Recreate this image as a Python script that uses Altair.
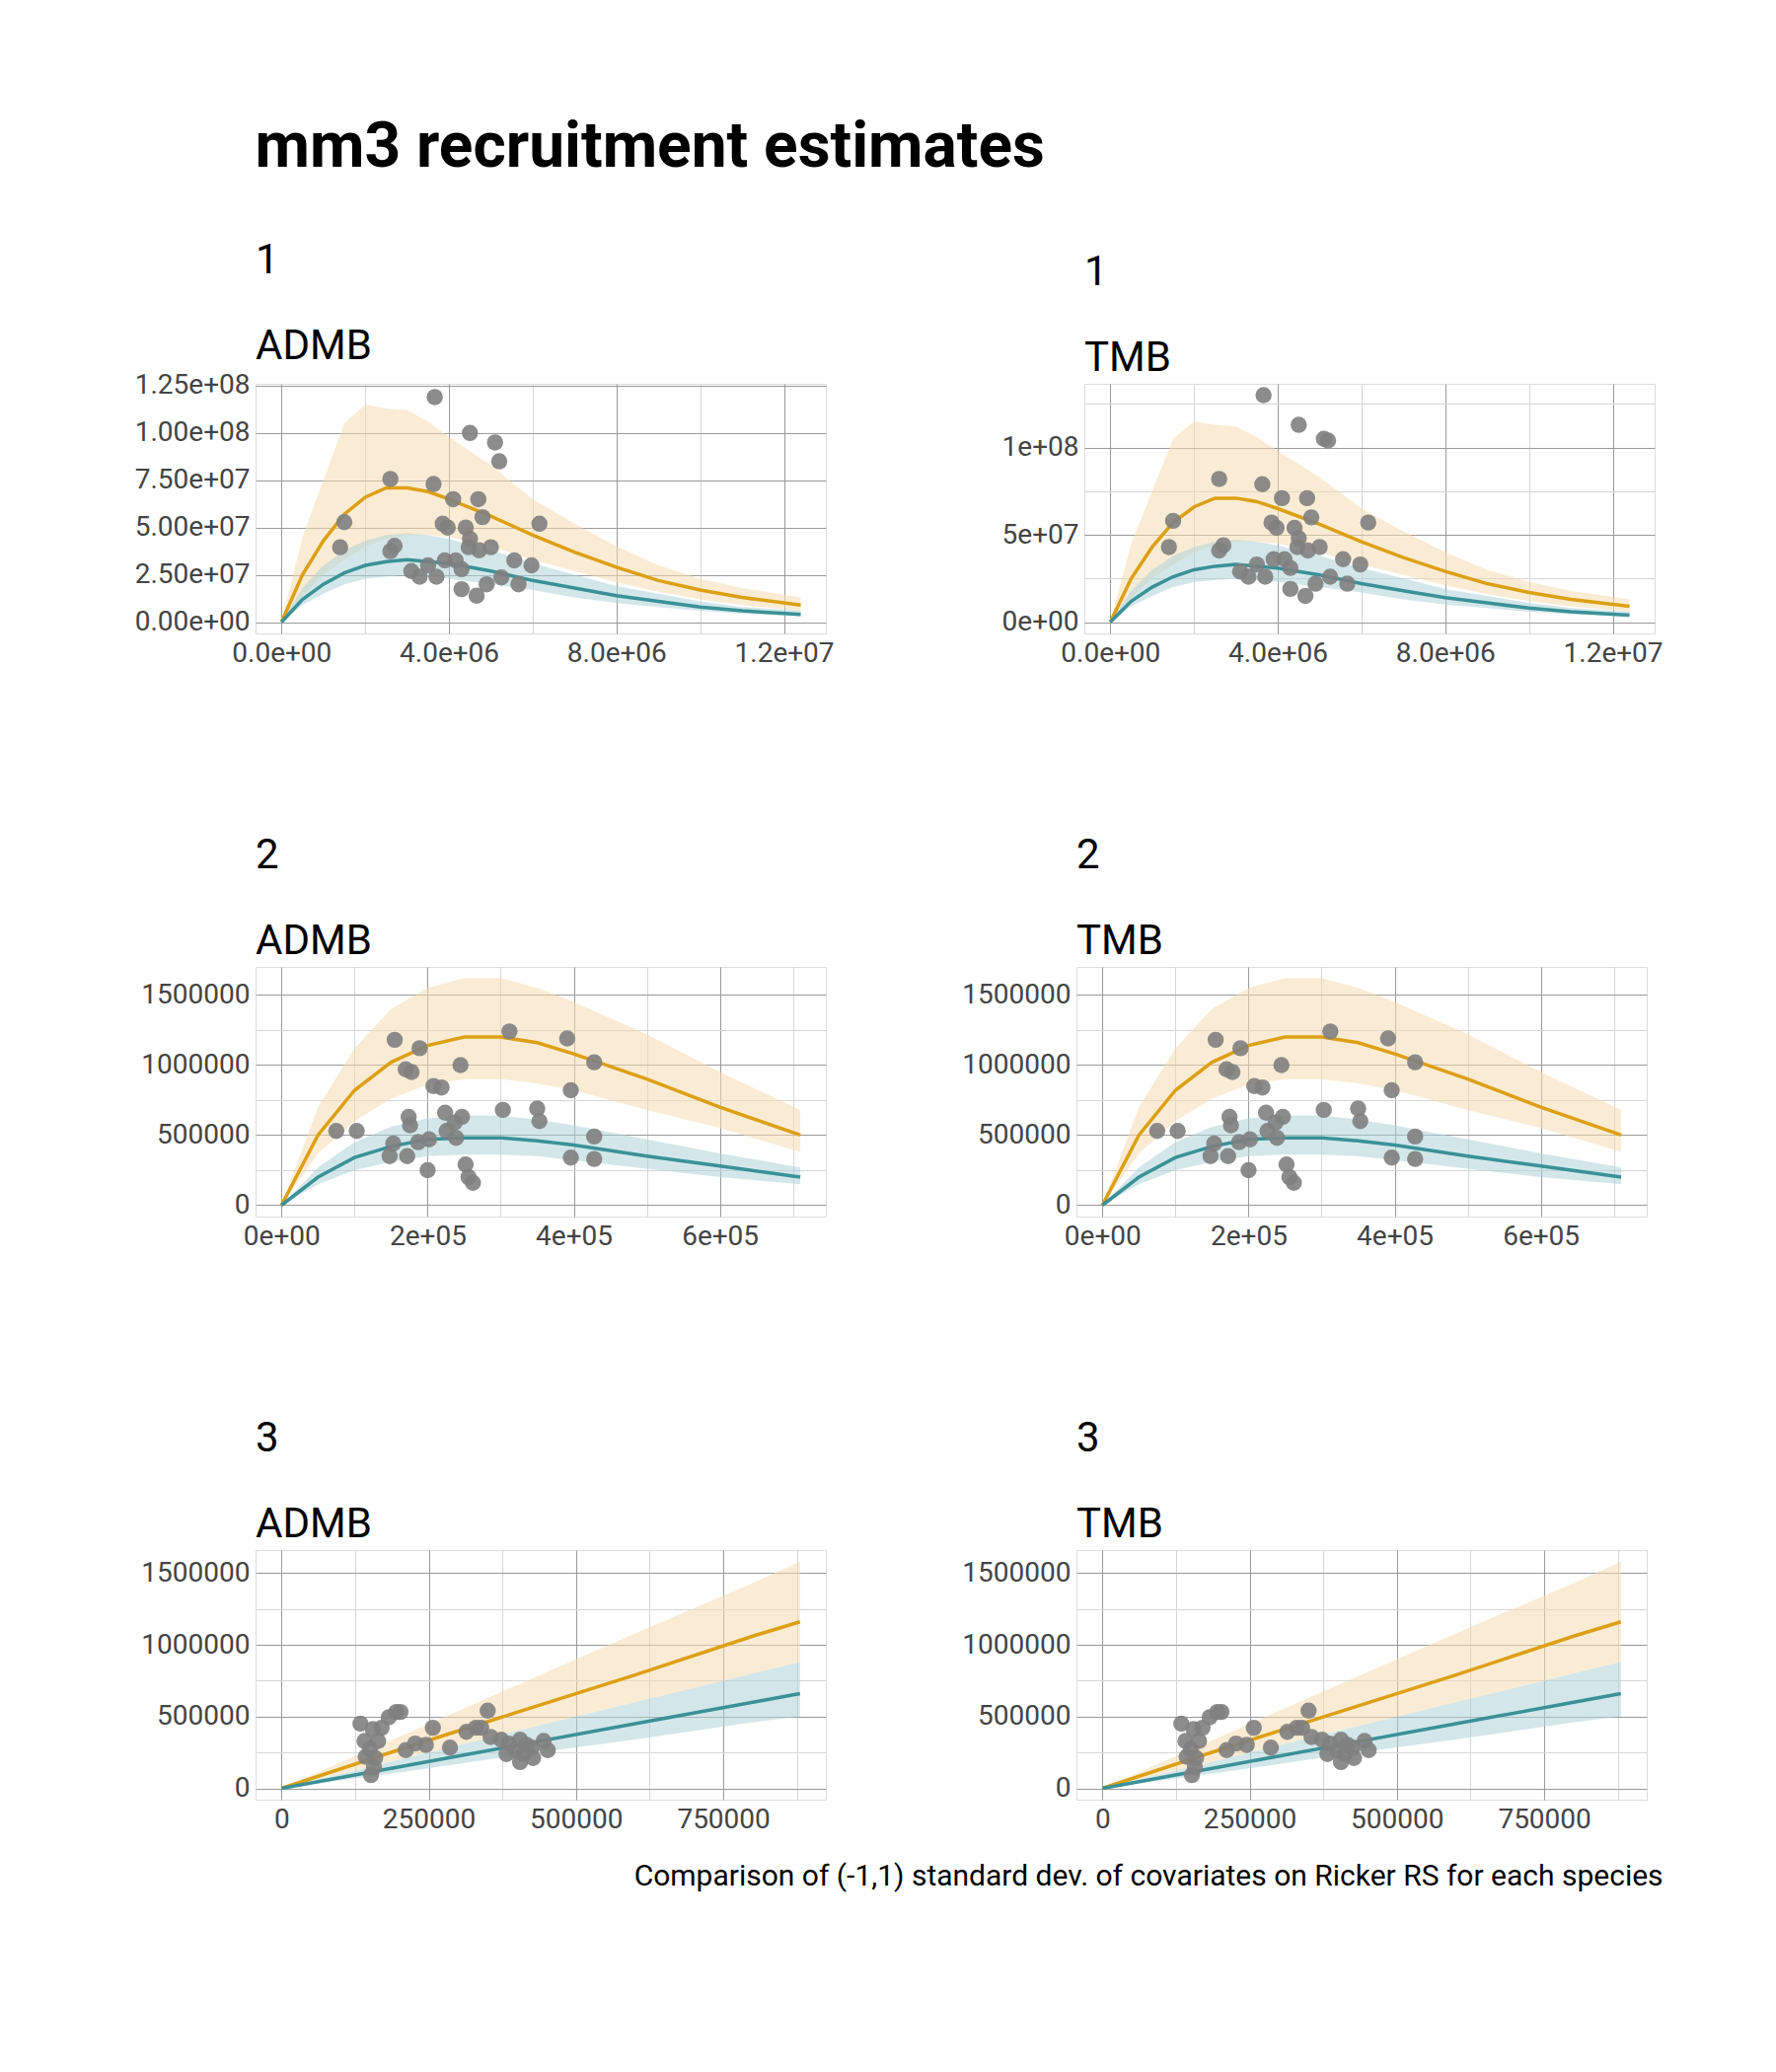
import altair as alt
import pandas as pd

FONT = "Roboto"
YEL_LINE, YEL_BAND = "#DDA015", "#F6DDB0"
TEAL_LINE, TEAL_BAND = "#3B9198", "#AFD3D8"

# ---- species 1 (spawners in 1e6, recruits in 1e7) ----
s1_grid = [0, 0.5, 1, 1.5, 2, 2.5, 3, 3.5, 4, 5, 6, 7, 8, 9, 10, 11, 12.4]
s1_hi = [0, 2.5, 4.3, 5.7, 6.6, 7.1, 7.1, 6.9, 6.5, 5.6, 4.6, 3.7, 2.9, 2.2, 1.7, 1.3, 0.9]
s1_hi_up = [0, 4.5, 7.5, 10.5, 11.5, 11.3, 11.2, 10.6, 9.8, 8.3, 6.5, 5.2, 4.0, 3.0, 2.3, 1.8, 1.3]
s1_hi_lo = [0, 1.4, 2.5, 3.3, 4.0, 4.4, 4.6, 4.6, 4.5, 4.0, 3.3, 2.7, 2.1, 1.6, 1.2, 0.9, 0.6]
s1_lo = [0, 1.2, 2.0, 2.6, 3.0, 3.2, 3.3, 3.2, 3.1, 2.7, 2.2, 1.8, 1.4, 1.1, 0.8, 0.6, 0.4]
s1_lo_up = [0, 1.8, 3.0, 3.8, 4.3, 4.6, 4.7, 4.6, 4.4, 3.8, 3.1, 2.5, 1.9, 1.5, 1.1, 0.8, 0.6]
s1_lo_lo = [0, 0.9, 1.5, 2.0, 2.3, 2.4, 2.5, 2.4, 2.3, 2.0, 1.7, 1.3, 1.0, 0.8, 0.6, 0.45, 0.3]
s1_obs_s = [1.4, 1.5, 2.6, 2.6, 2.7, 3.66, 3.63, 3.1, 3.3, 3.5, 3.7, 3.85, 3.97, 3.9, 4.1, 4.16, 4.3, 4.3,
            4.5, 4.4, 4.47, 4.5, 4.66, 4.7, 4.72, 4.8, 4.9, 5.1, 5.2, 5.0, 5.25, 5.56, 5.66, 5.97, 6.16]
s1_obs_r_admb = [3.96, 5.28, 7.57, 3.75, 4.03, 11.9, 7.3, 2.7, 2.4, 3.0, 2.4, 5.2, 5.0, 3.26, 6.5, 3.26, 2.8, 1.74,
                 10.0, 5.0, 3.96, 4.4, 1.4, 6.5, 3.8, 5.55, 2.0, 9.5, 8.5, 3.96, 2.36, 3.26, 2.0, 3.0, 5.2]
s1_obs_r_tmb = [4.3, 5.8, 8.2, 4.1, 4.4, 13.0, 7.9, 2.9, 2.6, 3.3, 2.6, 5.7, 5.4, 3.6, 7.1, 3.6, 3.1, 1.9,
                11.3, 5.4, 4.3, 4.8, 1.5, 7.1, 4.1, 6.0, 2.2, 10.5, 10.4, 4.3, 2.6, 3.6, 2.2, 3.3, 5.7]

# ---- species 2 (spawners in 1e5, recruits in 1e6) ----
s2_grid = [0, 0.5, 1, 1.5, 2, 2.5, 3, 3.5, 4, 5, 6, 7.1]
s2_hi = [0, 0.5, 0.82, 1.02, 1.14, 1.2, 1.2, 1.16, 1.08, 0.9, 0.7, 0.5]
s2_hi_up = [0, 0.7, 1.12, 1.4, 1.55, 1.62, 1.62, 1.55, 1.45, 1.22, 0.95, 0.68]
s2_hi_lo = [0, 0.37, 0.6, 0.76, 0.86, 0.9, 0.9, 0.87, 0.82, 0.68, 0.55, 0.38]
s2_lo = [0, 0.2, 0.34, 0.42, 0.47, 0.48, 0.48, 0.46, 0.43, 0.35, 0.28, 0.2]
s2_lo_up = [0, 0.27, 0.45, 0.56, 0.62, 0.64, 0.64, 0.61, 0.57, 0.47, 0.37, 0.27]
s2_lo_lo = [0, 0.15, 0.25, 0.31, 0.35, 0.36, 0.36, 0.35, 0.32, 0.26, 0.2, 0.15]
s2_obs_s = [0.75, 1.03, 1.55, 1.7, 1.78, 1.89, 1.53, 1.48, 1.72, 1.74, 1.76, 2.0, 1.87, 2.02, 2.08, 2.19, 2.24,
            2.26, 2.37, 2.39, 2.45, 2.47, 2.52, 2.56, 2.62, 3.03, 3.12, 3.5, 3.53, 3.91, 3.96, 3.96, 4.28, 4.28, 4.28]
s2_obs_r = [0.53, 0.53, 1.18, 0.97, 0.95, 1.12, 0.44, 0.35, 0.35, 0.63, 0.57, 0.25, 0.45, 0.47, 0.85, 0.84, 0.66,
            0.53, 0.59, 0.48, 1.0, 0.63, 0.29, 0.2, 0.16, 0.68, 1.24, 0.69, 0.6, 1.19, 0.82, 0.34, 1.02, 0.49, 0.33]

# ---- species 3 (spawners in 1e3, recruits in 1e3) ----
s3_grid = [0, 200, 400, 600, 800, 880]
s3_hi = [0, 270, 530, 790, 1060, 1160]
s3_hi_up = [0, 360, 720, 1080, 1430, 1580]
s3_hi_lo = [0, 200, 400, 600, 800, 880]
s3_lo = [0, 150, 300, 450, 600, 660]
s3_lo_up = [0, 200, 400, 600, 800, 880]
s3_lo_lo = [0, 110, 230, 340, 460, 500]
s3_obs_s = [134, 141, 143, 150, 155, 157, 152, 159, 164, 170, 182, 195, 202, 211, 227, 245, 257, 286, 314, 330,
            350, 339, 355, 373, 386, 382, 398, 405, 411, 416, 427, 445, 452, 425, 405]
s3_obs_r = [450, 330, 220, 275, 413, 147, 92, 211, 330, 422, 495, 532, 532, 266, 312, 303, 422, 284, 394, 422,
            541, 422, 358, 339, 312, 239, 266, 339, 239, 303, 211, 330, 266, 284, 183]


def fmt_e(digits):
    # R-style scientific labels: 4.0e+06
    return f"replace(format(datum.value, '.{digits}e'), 'e+', 'e+0')"


def axis(major, minor, label, extent, flush):
    test = " || ".join(f"datum.value == {m}" for m in major)
    return alt.Axis(
        values=sorted(major + minor), title=None, domain=False, ticks=False,
        labelExpr=f"({test}) ? {label} : ''", labelFont=FONT, labelFontSize=28,
        labelColor="#444", labelPadding=6, minExtent=extent, maxExtent=extent,
        gridColor={"condition": {"test": test, "value": "#9a9a9a"}, "value": "#d6d6d6"},
        gridWidth=1, labelOverlap=False, labelFlush=flush,
    )


def panel(num, name, grid, series, mult, obs_s, obs_r, smult, xd, yd, xax, yax):
    cols = ["hi", "hi_up", "hi_lo", "lo", "lo_up", "lo_lo"]
    curve = pd.DataFrame({"s": [g * smult for g in grid]})
    for c, vals in zip(cols, series):
        curve[c] = [v * mult for v in vals]
    pts = pd.DataFrame({"s": [v * smult for v in obs_s], "r": [v * mult for v in obs_r]})
    x = alt.X("s:Q", scale=alt.Scale(domain=xd, nice=False, zero=False), axis=xax)
    ysc = alt.Scale(domain=yd, nice=False, zero=False)
    base = alt.Chart(curve).encode(x=x)
    band_hi = base.mark_area(color=YEL_BAND, opacity=0.55).encode(y=alt.Y("hi_up:Q", scale=ysc, axis=yax), y2="hi_lo:Q")
    band_lo = base.mark_area(color=TEAL_BAND, opacity=0.55).encode(y=alt.Y("lo_up:Q", scale=ysc), y2="lo_lo:Q")
    line_hi = base.mark_line(color=YEL_LINE, strokeWidth=3.5).encode(y=alt.Y("hi:Q", scale=ysc))
    line_lo = base.mark_line(color=TEAL_LINE, strokeWidth=3.5).encode(y=alt.Y("lo:Q", scale=ysc))
    dots = alt.Chart(pts).mark_circle(color="#7f7f7f", opacity=0.9, size=270).encode(
        x=alt.X("s:Q", scale=alt.Scale(domain=xd, nice=False, zero=False)), y=alt.Y("r:Q", scale=ysc))
    return alt.layer(band_hi, band_lo, line_hi, line_lo, dots).properties(
        width=578, height=253,
        title=alt.TitleParams([str(num), name], anchor="start", frame="group", font=FONT,
                              fontSize=42, fontWeight="normal", lineHeight=87, offset=4, color="black"),
    )


YEXT, XEXT = 150, 52
rows = []
# species 1
s1 = [s1_hi, s1_hi_up, s1_hi_lo, s1_lo, s1_lo_up, s1_lo_lo]
x1 = axis([0, 4e6, 8e6, 1.2e7], [2e6, 6e6, 1e7], fmt_e(1), XEXT, False)
p1a = panel(1, "ADMB", s1_grid, s1, 1e7, s1_obs_s, s1_obs_r_admb, 1e6, [-6.2e5, 1.3e7], [-6e6, 1.26e8], x1,
            axis([0, 2.5e7, 5e7, 7.5e7, 1e8, 1.25e8], [1.25e7, 3.75e7, 6.25e7, 8.75e7, 1.125e8], fmt_e(2), YEXT, True))
p1b = panel(1, "TMB", s1_grid, s1, 1e7, s1_obs_s, s1_obs_r_tmb, 1e6, [-6.2e5, 1.3e7], [-6.5e6, 1.365e8], x1,
            axis([0, 5e7, 1e8], [2.5e7, 7.5e7, 1.25e8], fmt_e(0), YEXT, True))
rows.append(alt.hconcat(p1a, p1b, spacing=102))
# species 2
s2 = [s2_hi, s2_hi_up, s2_hi_lo, s2_lo, s2_lo_up, s2_lo_lo]
x2 = axis([0, 2e5, 4e5, 6e5], [1e5, 3e5, 5e5, 7e5], fmt_e(0), XEXT, False)
y2 = axis([0, 5e5, 1e6, 1.5e6], [2.5e5, 7.5e5, 1.25e6], "format(datum.value, 'd')", YEXT, True)
rows.append(alt.hconcat(
    panel(2, "ADMB", s2_grid, s2, 1e6, s2_obs_s, s2_obs_r, 1e5, [-3.55e4, 7.45e5], [-8.1e4, 1.7e6], x2, y2),
    panel(2, "TMB", s2_grid, s2, 1e6, s2_obs_s, s2_obs_r, 1e5, [-3.55e4, 7.45e5], [-8.1e4, 1.7e6], x2, y2),
    spacing=102))
# species 3
s3 = [s3_hi, s3_hi_up, s3_hi_lo, s3_lo, s3_lo_up, s3_lo_lo]
x3 = axis([0, 250000, 500000, 750000], [125000, 375000, 625000, 875000], "format(datum.value, 'd')", XEXT, False)
y3 = axis([0, 5e5, 1e6, 1.5e6], [2.5e5, 7.5e5, 1.25e6], "format(datum.value, 'd')", YEXT, True)
rows.append(alt.hconcat(
    panel(3, "ADMB", s3_grid, s3, 1e3, s3_obs_s, s3_obs_r, 1e3, [-4.4e4, 9.24e5], [-7.9e4, 1.66e6], x3, y3),
    panel(3, "TMB", s3_grid, s3, 1e3, s3_obs_s, s3_obs_r, 1e3, [-4.4e4, 9.24e5], [-7.9e4, 1.66e6], x3, y3),
    spacing=102))

inner = alt.vconcat(*rows, spacing=150).properties(
    title=alt.TitleParams("Comparison of (-1,1) standard dev. of covariates on Ricker RS for each species",
                          orient="bottom", anchor="end", font=FONT, fontSize=30, fontWeight="normal",
                          color="black", offset=10))
chart = alt.vconcat(inner).properties(
    title=alt.TitleParams("mm3  recruitment estimates", anchor="start", dx=150, font=FONT, fontSize=64,
                          fontWeight="bold", color="black", offset=60),
    padding={"left": 100, "top": 110, "right": 20, "bottom": 20},
).configure_view(stroke=None).configure(background="white")

chart.save("out.html", embed_options={"renderer": "svg", "actions": False})
